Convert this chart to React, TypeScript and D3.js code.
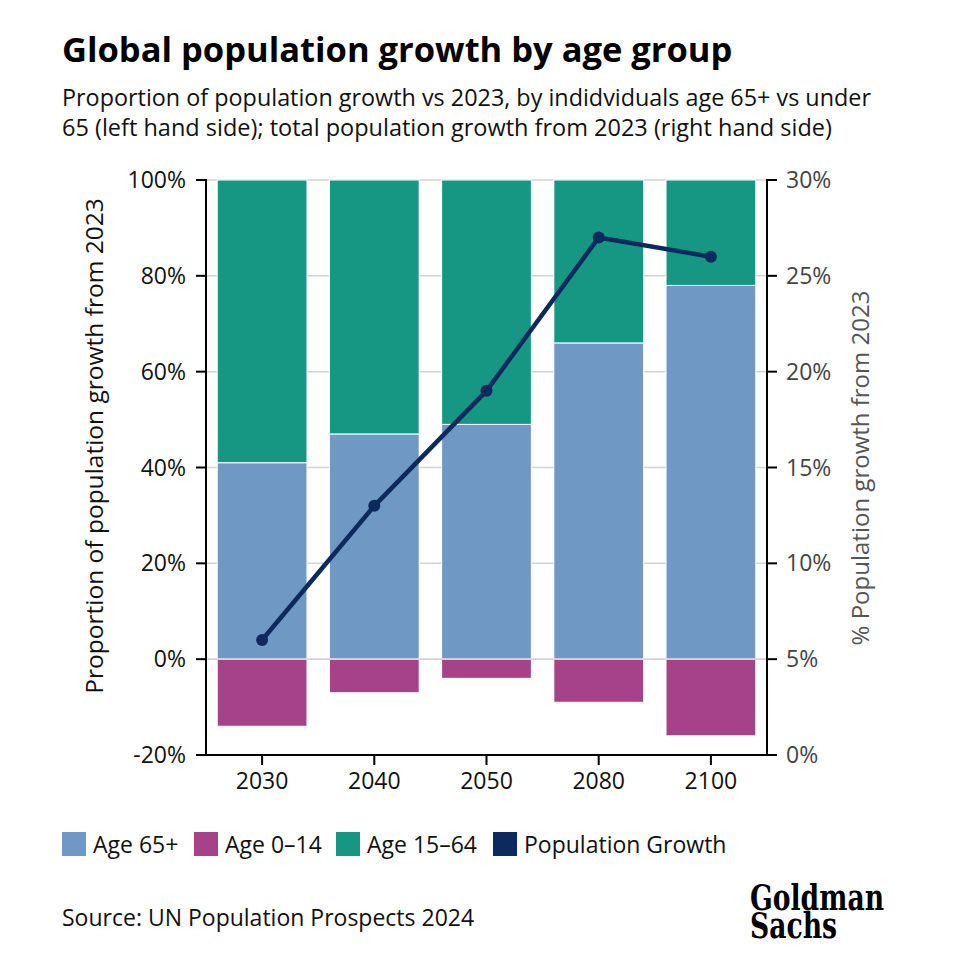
import React from "react";
import * as d3 from "d3";

const years = ["2030", "2040", "2050", "2080", "2100"];
const age65 = [41, 47, 49, 66, 78];
const age0to14 = [-14, -7, -4, -9, -16];
const age15to64 = [59, 53, 51, 34, 22];
const popGrowth = [6, 13, 19, 27, 26];
const leftTicks = [-20, 0, 20, 40, 60, 80, 100];
const rightTicks = [0, 5, 10, 15, 20, 25, 30];

const legendItems = [
  { label: "Age 65+", color: "#7098c4" },
  { label: "Age 0–14", color: "#a5428a" },
  { label: "Age 15–64", color: "#169784" },
  { label: "Population Growth", color: "#0c2a5e" },
];

const FONT = "'Open Sans', sans-serif";
const FS = 23;

export default function App() {
  const W = 958, H = 960;
  const left = 206, right = 767, top = 180, bottom = 755;
  const x = d3.scaleBand<string>().domain(years).range([left, right]).paddingInner(0.2).paddingOuter(0.1);
  const y = d3.scaleLinear().domain([-20, 100]).range([bottom, top]);
  const y2 = d3.scaleLinear().domain([0, 30]).range([bottom, top]);
  const bw = x.bandwidth();
  const line = d3.line<number>().x((_, i) => (x(years[i]) as number) + bw / 2).y((d) => y2(d));

  return (
    <svg width={W} height={H} style={{ position: "absolute", left: 0, top: 0, background: "#fff" }} fontFamily={FONT}>
      <rect width={W} height={H} fill="#fff" />
      <text x={62} y={62} fontSize={34.5} fontWeight={700} fill="#000">Global population growth by age group</text>
      <text x={62} y={106} fontSize={FS} fill="#111" textLength={809} lengthAdjust="spacingAndGlyphs">Proportion of population growth vs 2023, by indidviduals age 65+ vs under</text>
      <text x={62} y={136} fontSize={FS} fill="#111" textLength={770} lengthAdjust="spacingAndGlyphs">65 (left hand side); total population growth from 2023 (right hand side)</text>

      {/* gridlines */}
      {leftTicks.filter((t) => t !== -20).map((t) => (
        <line key={t} x1={left} x2={right} y1={y(t)} y2={y(t)} stroke="#d3d3d3" strokeWidth={1.5} />
      ))}

      {/* bars */}
      {years.map((yr, i) => {
        const bx = x(yr) as number;
        return (
          <g key={yr}>
            <rect x={bx} y={y(age65[i])} width={bw} height={y(0) - y(age65[i])} fill="#7098c4" stroke="#fff" strokeWidth={1} />
            <rect x={bx} y={y(age65[i] + age15to64[i])} width={bw} height={y(age65[i]) - y(age65[i] + age15to64[i])} fill="#169784" stroke="#fff" strokeWidth={1} />
            <rect x={bx} y={y(0)} width={bw} height={y(age0to14[i]) - y(0)} fill="#a5428a" stroke="#fff" strokeWidth={1} />
          </g>
        );
      })}
      <line x1={left} x2={right} y1={y(0)} y2={y(0)} stroke="#d3d3d3" strokeWidth={1.5} />

      {/* line */}
      <path d={line(popGrowth) || ""} fill="none" stroke="#0c2a5e" strokeWidth={4.5} strokeLinejoin="round" />
      {popGrowth.map((v, i) => (
        <circle key={i} cx={(x(years[i]) as number) + bw / 2} cy={y2(v)} r={6} fill="#0c2a5e" />
      ))}

      {/* left axis */}
      <line x1={left} x2={left} y1={top - 1} y2={bottom + 1} stroke="#000" strokeWidth={2} />
      {leftTicks.map((t) => (
        <g key={t}>
          <line x1={left - 10} x2={left} y1={y(t)} y2={y(t)} stroke="#000" strokeWidth={2} />
          <text x={left - 20} y={y(t)} dy="0.35em" textAnchor="end" fontSize={FS} fill="#111">{t}%</text>
        </g>
      ))}
      <text transform={`translate(103,446) rotate(-90)`} textAnchor="middle" fontSize={24.5} fill="#111">Proportion of population growth from 2023</text>

      {/* right axis */}
      <line x1={right} x2={right} y1={top - 1} y2={bottom + 1} stroke="#000" strokeWidth={2} />
      {rightTicks.map((t) => (
        <g key={t}>
          <line x1={right} x2={right + 10} y1={y2(t)} y2={y2(t)} stroke="#000" strokeWidth={2} />
          <text x={right + 19} y={y2(t)} dy="0.35em" textAnchor="start" fontSize={FS} fill="#444">{t}%</text>
        </g>
      ))}
      <text transform={`translate(869,468) rotate(-90)`} textAnchor="middle" fontSize={24} fill="#555">% Population growth from 2023</text>

      {/* x axis */}
      <line x1={left - 1} x2={right + 1} y1={bottom} y2={bottom} stroke="#000" strokeWidth={2} />
      {years.map((yr) => (
        <g key={yr}>
          <line x1={(x(yr) as number) + bw / 2} x2={(x(yr) as number) + bw / 2} y1={bottom} y2={bottom + 10} stroke="#000" strokeWidth={2} />
          <text x={(x(yr) as number) + bw / 2} y={bottom + 34} textAnchor="middle" fontSize={FS} fill="#111">{yr}</text>
        </g>
      ))}

      {/* legend */}
      {(() => {
        const xs = [62, 194, 336, 493];
        return legendItems.map((it, i) => (
          <g key={it.label}>
            <rect x={xs[i]} y={832} width={24} height={24} fill={it.color} />
            <text x={xs[i] + 31} y={845} dy="0.35em" fontSize={FS} fill="#111">{it.label}</text>
          </g>
        ));
      })()}

      <text x={62} y={926} fontSize={FS} fill="#111">Source: UN Population Prospects 2024</text>

      {/* logo */}
      <text transform="translate(750,910) scale(0.74,1)" fontSize={36} fontFamily="'DejaVu Serif', serif" fontWeight={700} fill="#000">
        <tspan x={0} y={0}>Goldman</tspan>
        <tspan x={0} y={28}>Sachs</tspan>
      </text>
    </svg>
  );
}
